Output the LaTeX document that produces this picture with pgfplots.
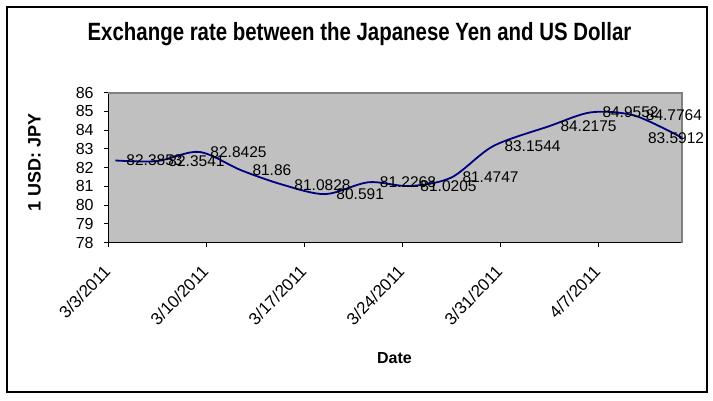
\documentclass[border=0pt]{standalone}
\usepackage{fontspec}
\setmainfont{Liberation Sans}
\newfontfamily\titlefont{Liberation Sans}[FakeStretch=0.817]
\usepackage{pgfplots}
\usepackage{pgfplotstable}
\pgfplotsset{compat=1.18}
\definecolor{plotbg}{HTML}{C0C0C0}
\definecolor{navyline}{HTML}{000080}
\definecolor{framegray}{HTML}{808080}

\pgfplotstableread{
day rate
0.5 82.3853
3.5 82.3541
6.5 82.8425
9.5 81.86
12.5 81.0828
15.5 80.591
18.6 81.2268
21.5 81.0205
24.5 81.4747
27.5 83.1544
31.5 84.2175
34.5 84.9552
37.6 84.7764
41 83.5912
}\ratedata

\begin{document}
\begin{tikzpicture}
\useasboundingbox (-108.3pt,-157.3pt) rectangle (604.7pt,242.7pt);
\fill[white] (-108.3pt,-157.3pt) rectangle (604.7pt,242.7pt);
\begin{axis}[
  at={(0pt,0pt)}, anchor=south west,
  scale only axis, width=574pt, height=150pt,
  xmin=0, xmax=41, ymin=78, ymax=86,
  axis background/.style={fill=plotbg},
  axis x line*=bottom, axis y line*=left,
  axis line style={black, line width=1pt},
  tick style={black, line width=1pt},
  tick align=outside, major tick length=4.5pt,
  xtick={0,7,14,21,28,35},
  xticklabels={3/3/2011,3/10/2011,3/17/2011,3/24/2011,3/31/2011,4/7/2011},
  ytick={78,79,80,81,82,83,84,85,86},
  /pgf/number format/assume math mode=true,
  xticklabel style={xshift=-1pt, yshift=-21pt, rotate=46, anchor=east, inner sep=0pt,
    font=\fontsize{17}{20}\selectfont},
  yticklabel style={inner sep=0pt, font=\fontsize{16}{19}\selectfont, xshift=-10pt},
  clip=false,
  title={Exchange rate between the Japanese Yen and US Dollar},
  title style={font=\titlefont\bfseries\fontsize{25}{30}\selectfont,
    at={(axis description cs:0.4376,1.305)}, anchor=base, inner sep=0pt},
  xlabel={Date},
  xlabel style={font=\bfseries\fontsize{16}{19}\selectfont,
    at={(axis description cs:0.4986,-0.767)}, anchor=center, inner sep=0pt},
  ylabel={1 USD: JPY},
  ylabel style={font=\bfseries\fontsize{18}{22}\selectfont,
    at={(axis description cs:-0.1286,0.533)}, anchor=center, inner sep=0pt},
]
\draw[framegray, line width=2pt] (rel axis cs:0,1) -- (rel axis cs:1,1) -- (rel axis cs:1,0);
\addplot[navyline, line width=1.8pt, smooth, tension=0.5, mark=none] table[x=day,y=rate]{\ratedata};
\addplot[draw=none, mark=none, skip coords between index={13}{14},
  point meta=explicit symbolic, nodes near coords,
  nodes near coords align=horizontal,
  every node near coord/.append style={anchor=west, inner sep=0pt, xshift=11pt,
    font=\fontsize{15.5}{18}\selectfont, text=black}]
  table[x=day,y=rate,meta=rate]{\ratedata};
\addplot[draw=none, mark=none, skip coords between index={0}{13},
  point meta=explicit symbolic, nodes near coords,
  nodes near coords align=horizontal,
  every node near coord/.append style={anchor=east, inner sep=0pt, xshift=22pt,
    font=\fontsize{15.5}{18}\selectfont, text=black}]
  table[x=day,y=rate,meta=rate]{\ratedata};
\end{axis}
\draw[black, line width=2pt] (-101.6pt,236pt) rectangle (598.7pt,-149.6pt);
\end{tikzpicture}
\end{document}
